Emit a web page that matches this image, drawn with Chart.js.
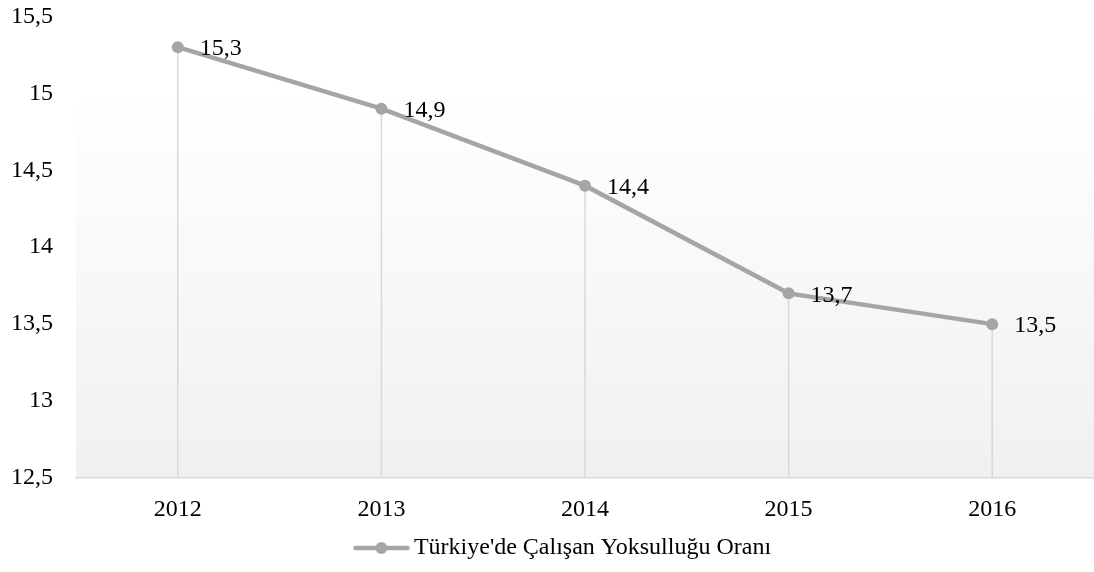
<!DOCTYPE html>
<html>
<head>
<meta charset="utf-8">
<script src="https://cdn.jsdelivr.net/npm/chart.js@4"></script>
<style>
  html, body { margin: 0; padding: 0; background: #fff; overflow: hidden; }
  #wrap { width: 1100px; height: 593px; margin-top: -21px; }
</style>
</head>
<body>
<div id="wrap"><canvas id="chart"></canvas></div>
<script>
// data
const years = ['2012', '2013', '2014', '2015', '2016'];
const povertyRate = [15.3, 14.9, 14.4, 13.7, 13.5];
const seriesName = "Türkiye'de Çalışan Yoksulluğu Oranı";
const yMin = 12.5, yMax = 15.5, yStep = 0.5;

const LINE = '#a5a5a5';
const FONT = "'Liberation Serif', 'Times New Roman', serif";
const FS = 24;

const fmt = v => String(v).replace('.', ',');

// legend marker: short line with a dot (drawn off-centre on a wider canvas
// so the legend sits where the original one does)
function legendMarker() {
    const c = document.createElement('canvas');
    c.width = 100; c.height = 14;
    const g = c.getContext('2d');
    g.strokeStyle = LINE; g.lineWidth = 4.5; g.lineCap = 'round';
    g.beginPath(); g.moveTo(41, 7); g.lineTo(93, 7); g.stroke();
    g.fillStyle = LINE;
    g.beginPath(); g.arc(67, 7, 6, 0, Math.PI * 2); g.fill();
    return c;
}

const plotBackground = {
    id: 'plotBackground',
    beforeDraw(chart) {
        const { ctx, chartArea: a, scales } = chart;
        const top = scales.y.getPixelForValue(15);
        const grad = ctx.createLinearGradient(0, top, 0, a.bottom);
        grad.addColorStop(0, '#ffffff');
        grad.addColorStop(1, '#f0f0f0');
        ctx.save();
        ctx.fillStyle = grad;
        ctx.fillRect(a.left, top, a.right - a.left, a.bottom - top);
        ctx.restore();
    }
};

// vertical drop lines from each point down to the axis
const dropLines = {
    id: 'dropLines',
    beforeDatasetsDraw(chart) {
        const { ctx, chartArea: a } = chart;
        const meta = chart.getDatasetMeta(0);
        ctx.save();
        ctx.strokeStyle = '#d9d9d9';
        ctx.lineWidth = 1.5;
        meta.data.forEach(p => {
            ctx.beginPath();
            ctx.moveTo(p.x, p.y);
            ctx.lineTo(p.x, a.bottom);
            ctx.stroke();
        });
        ctx.restore();
    }
};

const valueLabels = {
    id: 'valueLabels',
    afterDatasetsDraw(chart) {
        const { ctx } = chart;
        const meta = chart.getDatasetMeta(0);
        ctx.save();
        ctx.font = FS + 'px ' + FONT;
        ctx.fillStyle = '#000';
        ctx.textAlign = 'left';
        ctx.textBaseline = 'middle';
        meta.data.forEach((p, i) => {
            ctx.fillText(fmt(povertyRate[i]), p.x + 22, p.y + 2);
        });
        ctx.restore();
    }
};

new Chart(document.getElementById('chart'), {
    type: 'line',
    data: {
        labels: years,
        datasets: [{
            label: seriesName,
            data: povertyRate,
            borderColor: LINE,
            backgroundColor: LINE,
            borderWidth: 4.5,
            pointRadius: 6,
            pointHoverRadius: 6,
            pointBackgroundColor: LINE,
            pointBorderWidth: 0,
            tension: 0
        }]
    },
    options: {
        responsive: true,
        maintainAspectRatio: false,
        animation: false,
        events: [],
        layout: { padding: { top: 0, right: 2, bottom: 2, left: 0 } },
        plugins: {
            tooltip: { enabled: false },
            legend: {
                position: 'bottom',
                labels: {
                    color: '#000',
                    font: { family: FONT, size: FS },
                    usePointStyle: true,
                    pointStyleWidth: 75,
                    padding: 10,
                    generateLabels: chart => [{
                        text: seriesName,
                        pointStyle: legendMarker(),
                        fillStyle: LINE,
                        strokeStyle: LINE,
                        lineWidth: 0,
                        datasetIndex: 0
                    }]
                }
            }
        },
        scales: {
            x: {
                offset: true,
                grid: { display: false, drawTicks: false },
                border: { display: true, color: '#d9d9d9', width: 1.5 },
                afterFit: s => { s.height = 48; },
                ticks: { color: '#000', font: { family: FONT, size: FS }, padding: 17 }
            },
            y: {
                min: yMin,
                max: yMax,
                grid: { display: false, drawTicks: false },
                border: { display: false },
                afterFit: s => { s.width = 76; },
                ticks: {
                    stepSize: yStep,
                    color: '#000',
                    padding: 23,
                    font: { family: FONT, size: FS },
                    callback: v => fmt(v)
                }
            }
        }
    },
    plugins: [plotBackground, dropLines, valueLabels]
});
</script>
</body>
</html>
